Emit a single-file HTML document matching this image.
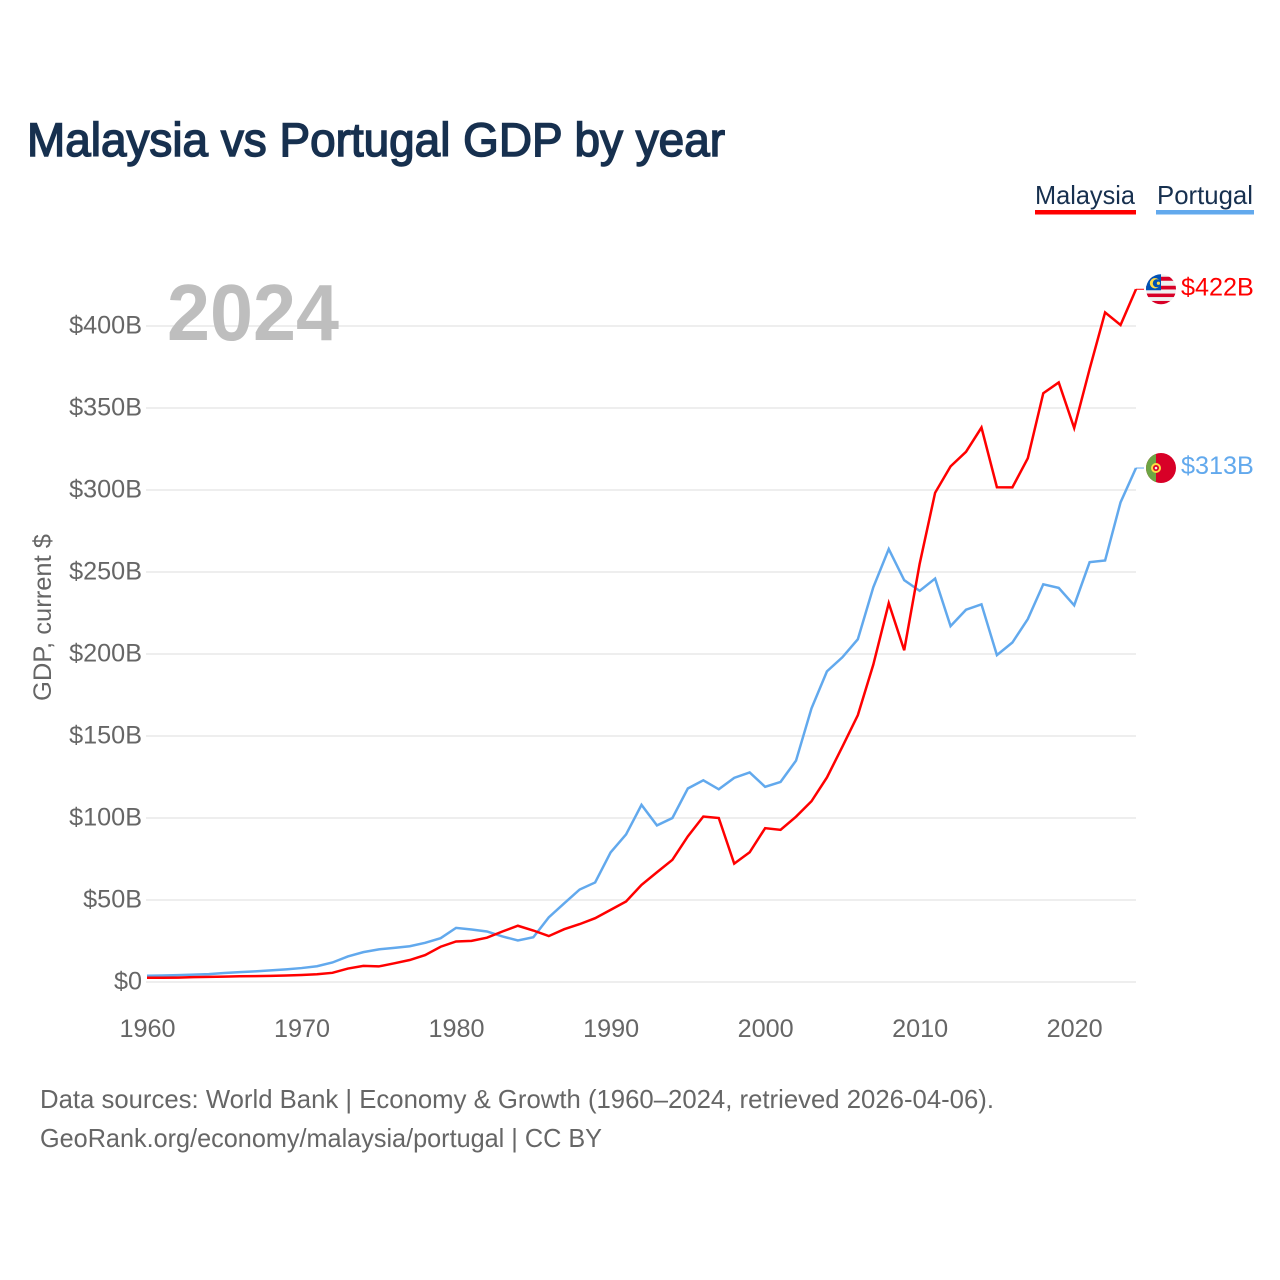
<!DOCTYPE html>
<html lang="en">
<head>
<meta charset="utf-8">
<title>Malaysia vs Portugal GDP by year</title>
<style>
html,body{margin:0;padding:0;background:#fff;}
svg{display:block;font-family:"Liberation Sans",sans-serif;}
</style>
</head>
<body>
<svg id="chart" xmlns="http://www.w3.org/2000/svg" width="1280" height="1280" viewBox="0 0 1280 1280">
  <defs>
    <clipPath id="flag-clip-my"><circle cx="0" cy="0" r="15"/></clipPath>
    <clipPath id="flag-clip-pt"><circle cx="0" cy="0" r="15"/></clipPath>
  </defs>
  <rect x="0" y="0" width="1280" height="1280" fill="#ffffff"/>
  <text x="27" y="156" font-size="47" font-weight="400" fill="#17304f" stroke="#17304f" stroke-width="1.5" textLength="698" lengthAdjust="spacingAndGlyphs">Malaysia vs Portugal GDP by year</text>

  <g>
    <g>
      <text x="1035" y="204" font-size="26" fill="#17304f" textLength="100" lengthAdjust="spacingAndGlyphs">Malaysia</text>
      <rect x="1035" y="210" width="101" height="4.5" fill="#ff0000"/>
    </g>
    <g>
      <text x="1157" y="204" font-size="26" fill="#17304f" textLength="96" lengthAdjust="spacingAndGlyphs">Portugal</text>
      <rect x="1156" y="210" width="98" height="4.5" fill="#62a9ed"/>
    </g>
  </g>

  <g id="grid"></g>
  <g id="y-ticks"></g>
  <g id="x-ticks"></g>

  <text x="167" y="340" font-size="80" font-weight="700" fill="#bebebe" textLength="172" lengthAdjust="spacingAndGlyphs">2024</text>

  <text transform="translate(51,617.5) rotate(-90)" text-anchor="middle" font-size="25" fill="#666666" textLength="167" lengthAdjust="spacingAndGlyphs">GDP, current $</text>

  <g id="series"></g>

  <g id="flag-my">
    <g clip-path="url(#flag-clip-my)">
      <rect x="-16" y="-16" width="32" height="32" fill="#f0f0f0"/>
      <rect x="-16" y="-12.5" width="32" height="4" fill="#d80027"/>
      <rect x="-16" y="-3.5" width="32" height="3.7" fill="#d80027"/>
      <rect x="-16" y="4.3" width="32" height="3.5" fill="#d80027"/>
      <rect x="-16" y="11.7" width="32" height="4" fill="#d80027"/>
      <rect x="-16" y="-16" width="16" height="17" fill="#0052b4"/>
      <circle cx="-6" cy="-6" r="5.2" fill="#ffda44"/>
      <circle cx="-4.2" cy="-6" r="4" fill="#0052b4"/>
      <circle cx="-2.6" cy="-6" r="1.6" fill="#ffda44"/>
    </g>
  </g>
  <g id="flag-pt">
    <g clip-path="url(#flag-clip-pt)">
      <rect x="-16" y="-16" width="32" height="32" fill="#d80027"/>
      <rect x="-16" y="-16" width="11" height="32" fill="#6da544"/>
      <circle cx="-5" cy="0" r="5" fill="#ffda44"/>
      <circle cx="-5" cy="0" r="3" fill="#d80027"/>
      <circle cx="-5" cy="0" r="1.3" fill="#f0f0f0"/>
    </g>
  </g>

  <g>
    <text x="40" y="1108" font-size="26" fill="#666666" textLength="954" lengthAdjust="spacingAndGlyphs">Data sources: World Bank | Economy &amp; Growth (1960–2024, retrieved 2026-04-06).</text>
    <text x="40" y="1147" font-size="26" fill="#666666" textLength="562" lengthAdjust="spacingAndGlyphs">GeoRank.org/economy/malaysia/portugal | CC BY</text>
  </g>
</svg>
<script>
const startYear = 1960;
const xTickYears = [1960, 1970, 1980, 1990, 2000, 2010, 2020];
const yTickValues = [0, 50, 100, 150, 200, 250, 300, 350, 400];
const yTickLabels = ["$0", "$50B", "$100B", "$150B", "$200B", "$250B", "$300B", "$350B", "$400B"];
const malaysiaGdp = [2.6, 2.6, 2.7, 3.0, 3.1, 3.3, 3.5, 3.6, 3.7, 4.0, 4.3, 4.7, 5.6, 8.2, 9.8, 9.5, 11.4, 13.4, 16.4, 21.5, 24.7, 25.1, 27.0, 30.8, 34.3, 31.4, 28.0, 32.2, 35.3, 38.9, 44.0, 49.1, 59.2, 66.9, 74.5, 88.8, 100.9, 100.0, 72.2, 79.1, 93.8, 92.8, 100.8, 110.2, 124.7, 143.5, 162.7, 193.5, 231.0, 202.3, 255.0, 298.3, 314.4, 323.3, 338.1, 301.7, 301.6, 319.4, 359.0, 365.6, 337.8, 373.8, 408.3, 400.6, 422.4];
const portugalGdp = [3.8, 4.0, 4.2, 4.5, 4.8, 5.5, 6.0, 6.5, 7.1, 7.7, 8.5, 9.6, 11.9, 15.6, 18.2, 19.9, 20.8, 21.8, 23.9, 26.7, 33.0, 32.0, 30.8, 27.8, 25.3, 27.3, 39.4, 48.0, 56.4, 60.7, 79.0, 90.0, 108.0, 95.5, 100.0, 118.0, 123.0, 117.5, 124.5, 127.8, 119.0, 122.0, 135.0, 166.8, 189.4, 198.0, 209.0, 240.7, 264.0, 245.0, 238.5, 246.0, 217.0, 227.0, 230.3, 199.3, 207.0, 221.3, 242.5, 240.3, 229.7, 256.0, 257.0, 292.5, 313.4];

function xScale(year) {
  return 147 + (year - 1960) * (989 / 64);
}
function yScale(value) {
  return 982 - value * 1.64;
}
function svgEl(tag) {
  return document.createElementNS('http://www.w3.org/2000/svg', tag);
}
function money(value) {
  return '$' + Math.round(value) + 'B';
}

const gridGroup = document.getElementById('grid');
const yTickGroup = document.getElementById('y-ticks');
yTickValues.forEach(function (v, i) {
  const line = svgEl('line');
  line.setAttribute('x1', xScale(1960) - 1);
  line.setAttribute('x2', xScale(2024));
  line.setAttribute('y1', yScale(v));
  line.setAttribute('y2', yScale(v));
  line.setAttribute('stroke', '#eeeeee');
  line.setAttribute('stroke-width', '2');
  
  
  gridGroup.appendChild(line);

  const label = svgEl('text');
  label.setAttribute('x', 142);
  label.setAttribute('y', yScale(v) + 7.7);
  label.setAttribute('text-anchor', 'end');
  label.setAttribute('font-size', '25.2');
  label.setAttribute('fill', '#666666');
  
  
  label.textContent = yTickLabels[i];
  yTickGroup.appendChild(label);
});

const xTickGroup = document.getElementById('x-ticks');
xTickYears.forEach(function (year) {
  const label = svgEl('text');
  label.setAttribute('x', xScale(year) + 0.5);
  label.setAttribute('y', 1037);
  label.setAttribute('text-anchor', 'middle');
  label.setAttribute('font-size', '25.2');
  label.setAttribute('fill', '#666666');
  
  
  label.textContent = String(year);
  xTickGroup.appendChild(label);
});

function drawSeries(values, color, key, flagId) {
  const group = document.getElementById('series');
  const pts = values.map(function (v, i) {
    return xScale(startYear + i).toFixed(2) + ',' + yScale(v).toFixed(2);
  });
  const lastYear = startYear + values.length - 1;
  const lastValue = values[values.length - 1];
  const endX = xScale(lastYear);
  const endY = yScale(lastValue);

  const path = svgEl('polyline');
  path.setAttribute('points', pts.join(' '));
  path.setAttribute('fill', 'none');
  path.setAttribute('stroke', color);
  path.setAttribute('stroke-width', '2.5');
  path.setAttribute('stroke-linejoin', 'miter');
  
  
  group.appendChild(path);

  const connector = svgEl('line');
  connector.setAttribute('x1', endX);
  connector.setAttribute('x2', endX + 8);
  connector.setAttribute('y1', endY);
  connector.setAttribute('y2', endY);
  connector.setAttribute('stroke', color);
  connector.setAttribute('stroke-width', '1');
  
  
  group.appendChild(connector);

  const flag = document.getElementById(flagId);
  flag.setAttribute('transform', 'translate(1161,' + endY.toFixed(2) + ')');

  const label = svgEl('text');
  label.setAttribute('x', 1181);
  label.setAttribute('y', (endY + 6).toFixed(2));
  label.setAttribute('font-size', '25.2');
  label.setAttribute('fill', color);
  
  
  label.textContent = money(lastValue);
  group.appendChild(label);
}

drawSeries(portugalGdp, '#62a9ed', 'portugal', 'flag-pt');
drawSeries(malaysiaGdp, '#ff0000', 'malaysia', 'flag-my');
</script>
</body>
</html>
